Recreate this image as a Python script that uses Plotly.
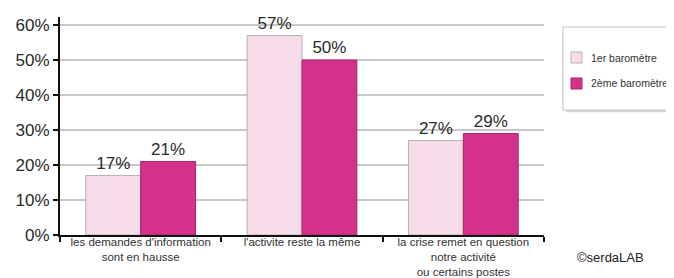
import plotly.graph_objects as go

categories = [
    "les demandes d'information<br>sont en hausse",
    "l'activite reste la même",
    "la crise remet en question<br>notre activité<br>ou certains postes",
]
series_names = ["1er baromètre", "2ème baromètre"]
values_1 = [17, 57, 27]
values_2 = [21, 50, 29]
tick_vals = [0, 10, 20, 30, 40, 50, 60]
tick_text = ["0%", "10%", "20%", "30%", "40%", "50%", "60%"]

light = "#F7DCEA"
light_line = "#B8B0B4"
dark = "#D3318A"
dark_line = "#A8246C"

fig = go.Figure()
fig.add_trace(go.Bar(
    x=categories, y=values_1, name=series_names[0],
    marker=dict(color=light, line=dict(color=light_line, width=1)),
    text=[f"{v}%" for v in values_1], textposition="outside",
    textfont=dict(size=17, color="#2a2a2a", family="Liberation Sans"),
    cliponaxis=False,
))
fig.add_trace(go.Bar(
    x=categories, y=values_2, name=series_names[1],
    marker=dict(color=dark, line=dict(color=dark_line, width=1)),
    text=[f"{v}%" for v in values_2], textposition="outside",
    textfont=dict(size=17, color="#2a2a2a", family="Liberation Sans"),
    cliponaxis=False,
))

# custom legend (box with shadow, swatches, labels) in paper coordinates
shapes = [
    dict(type="rect", xref="paper", yref="paper", x0=1.045, x1=1.3, y0=0.563, y1=0.944,
         fillcolor="#D6D6D6", line=dict(width=0), layer="above"),
    dict(type="rect", xref="paper", yref="paper", x0=1.039, x1=1.3, y0=0.573, y1=0.954,
         fillcolor="white", line=dict(color="#C4C4C4", width=1), layer="above"),
    dict(type="rect", xref="paper", yref="paper", x0=1.0558, x1=1.0785, y0=0.789, y1=0.8394,
         fillcolor=light, line=dict(color=light_line, width=1), layer="above"),
    dict(type="rect", xref="paper", yref="paper", x0=1.0558, x1=1.0785, y0=0.6697, y1=0.7202,
         fillcolor=dark, line=dict(color=dark_line, width=1), layer="above"),
]
annotations = [
    dict(text=series_names[0], xref="paper", yref="paper", x=1.093, y=0.814,
         xanchor="left", yanchor="middle", showarrow=False,
         font=dict(size=10.5, color="#333")),
    dict(text=series_names[1], xref="paper", yref="paper", x=1.093, y=0.695,
         xanchor="left", yanchor="middle", showarrow=False,
         font=dict(size=10.5, color="#333")),
    dict(text="©serdaLAB", xref="paper", yref="paper",
         x=1.064, y=-0.101, xanchor="left", yanchor="middle",
         showarrow=False, font=dict(size=13, color="#222")),
]

fig.update_layout(
    width=666, height=270,
    margin=dict(l=52, r=130, t=9, b=43, autoexpand=False),
    paper_bgcolor="white", plot_bgcolor="white",
    barmode="group", bargap=0.32, bargroupgap=0,
    font=dict(family="Liberation Sans", color="#2a2a2a"),
    showlegend=False,
    shapes=shapes,
    annotations=annotations,
    xaxis=dict(
        showline=True, linecolor="#111", linewidth=2,
        ticks="outside", tickson="boundaries", ticklen=5, tickwidth=2, tickcolor="#111",
        tickfont=dict(size=11.5, color="#333"),
        ticklabelstandoff=-5,
        showgrid=False, automargin=False,
    ),
    yaxis=dict(
        range=[0, 62.3], tickvals=tick_vals, ticktext=tick_text,
        showline=True, linecolor="#111", linewidth=2,
        ticks="outside", ticklen=5, tickwidth=2, tickcolor="#111",
        tickfont=dict(size=17, color="#2a2a2a"),
        showgrid=True, gridcolor="#C8C8C8", gridwidth=2,
        zeroline=False, automargin=False,
    ),
)

fig.write_html("out.html")
